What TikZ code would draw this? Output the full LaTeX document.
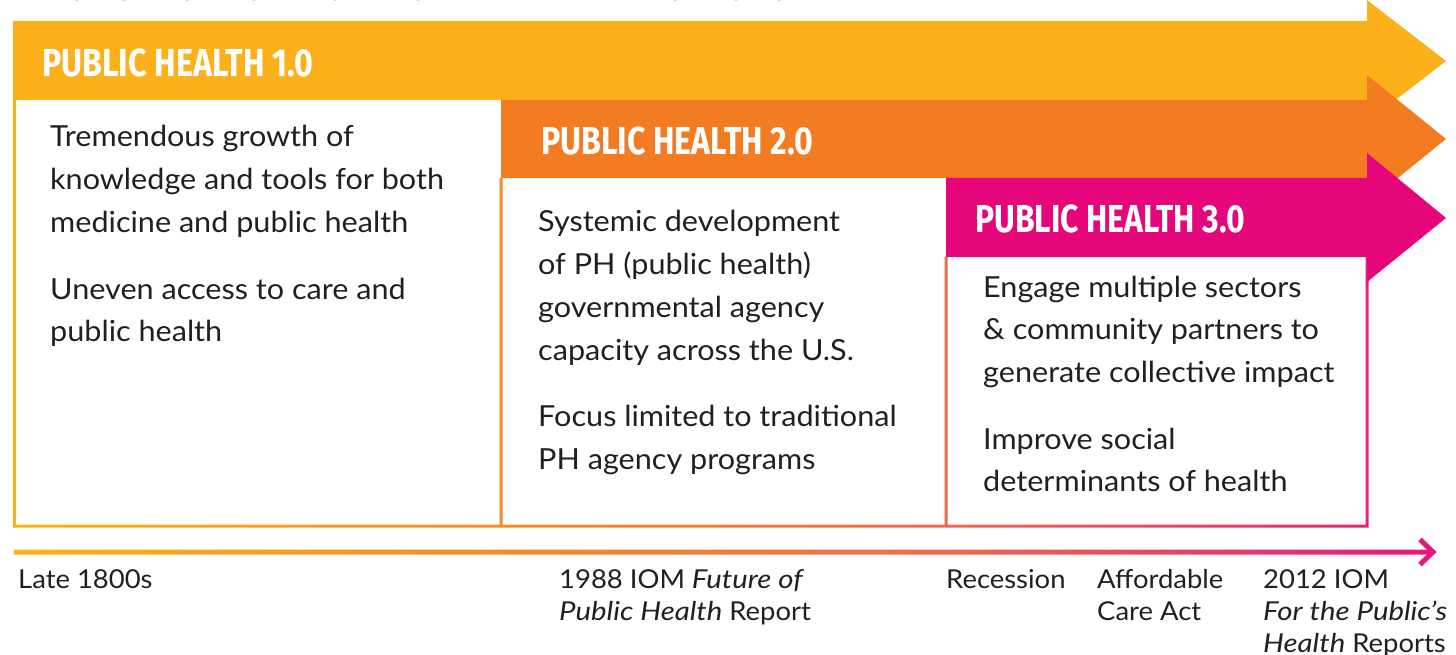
\documentclass[tikz,border=0pt]{standalone}
\usepackage{fontspec}
\usetikzlibrary{calc}
\setmainfont{Lato}[FakeStretch=1.055, ItalicFeatures={FakeStretch=1.13}]
\newfontfamily\hfont{Fira Sans}
\definecolor{cY}{HTML}{FCB11B}
\definecolor{cO}{HTML}{F37C22}
\definecolor{cP}{HTML}{E4067A}
\definecolor{gY}{HTML}{FBB21A}
\definecolor{gO}{HTML}{F68C24}
\definecolor{gC}{HTML}{EF6A4C}
\definecolor{gP}{HTML}{E5177D}
\definecolor{ink}{HTML}{231F20}
\pgfdeclarehorizontalshading{phgrad}{100bp}{color(0bp)=(gY); color(25bp)=(gY); color(42.2bp)=(gO); color(57.8bp)=(gC); color(75bp)=(gP); color(100bp)=(gP)}
\tikzset{
  head/.style={font=\hfont\bfseries\fontsize{39}{39}\selectfont, text=white, inner sep=0pt, anchor=base west},
  body/.style={font=\fontsize{29}{42.7}\selectfont, text=ink, inner sep=0pt, anchor=base west},
  tlabel/.style={font=\fontsize{26}{32}\selectfont, text=ink, inner sep=0pt, anchor=base west},
}
\begin{document}
\begin{tikzpicture}[x=1pt,y=-1pt]
\useasboundingbox (0,0) rectangle (1456,655);
% faint dots cut at top edge
\foreach \dx in {77,124,187,254,335,418,675,736,779}
  \fill[cP!55] (\dx,-1.8) circle (2.5);
% box borders and timeline, one shaded path
\coordinate (tl0) at (14,552);
\coordinate (tl1) at (1432,552);
\shade[shading=phgrad]
  (13,100) rectangle (16,527.5)
  (499.5,178) rectangle (502.5,527.5)
  (944.5,257) rectangle (947.5,527.5)
  (1365.5,257) rectangle (1368.5,527.5)
  (13,524.5) rectangle (1368.5,527.5)
  ($(tl0)+(0,-2.5)$) rectangle ($(tl1)+(0,2.5)$);
\draw[gP, line width=5pt, miter limit=10] (1420,539.5) -- (1433,552) -- (1420,564.5);
% arrows
\fill[cY] (13,21) -- (1367,21) -- (1367,0) -- (1446,61) -- (1367,122) -- (1367,100) -- (13,100) -- cycle;
\fill[cO] (501,100) -- (1367,100) -- (1367,75) -- (1446,139) -- (1367,203) -- (1367,178) -- (501,178) -- cycle;
\fill[cP] (946,178) -- (1367,178) -- (1367,153) -- (1446,218) -- (1367,282) -- (1367,257) -- (946,257) -- cycle;
% headings
\node[head] (h1) at (42,77) {\resizebox{271pt}{\height}{PUBLIC HEALTH 1.0}};
\node[head] (h2) at (541,155) {\resizebox{272pt}{\height}{PUBLIC HEALTH 2.0}};
\node[head] (h3) at (975,233) {\resizebox{270pt}{\height}{PUBLIC HEALTH 3.0}};
% body texts
\node[body] (b1) at (50,147) {\parbox[t]{440pt}{\raggedright
  Tremendous growth of\\ knowledge and tools for both\\ medicine and public health\\[24pt]
  Uneven access to care and\\ public health}};
\node[body] (b2) at (538,232) {\parbox[t]{400pt}{\raggedright
  Systemic development\\ of PH (public health)\\ governmental agency\\ capacity across the U.S.\\[24pt]
  Focus limited to traditional\\ PH agency programs}};
\node[body] (b3) at (983,297) {\parbox[t]{380pt}{\raggedright
  Engage multiple sectors\\ \& community partners to\\ generate collective impact\\[24pt]
  Improve social\\ determinants of health}};
% timeline labels
\node[tlabel] (l1) at (18,588) {Late 1800s};
\node[tlabel] (l2) at (559,588) {\parbox[t]{300pt}{\raggedright 1988 IOM \textit{Future of}\\ \textit{Public Health} Report}};
\node[tlabel] (l3) at (946,588) {Recession};
\node[tlabel] (l4) at (1097,588) {\parbox[t]{160pt}{\raggedright Affordable\\ Care Act}};
\node[tlabel] (l5) at (1263,588) {\parbox[t]{200pt}{\raggedright 2012 IOM\\ \textit{For the Public’s}\\ \textit{Health} Reports}};
\end{tikzpicture}
\end{document}
